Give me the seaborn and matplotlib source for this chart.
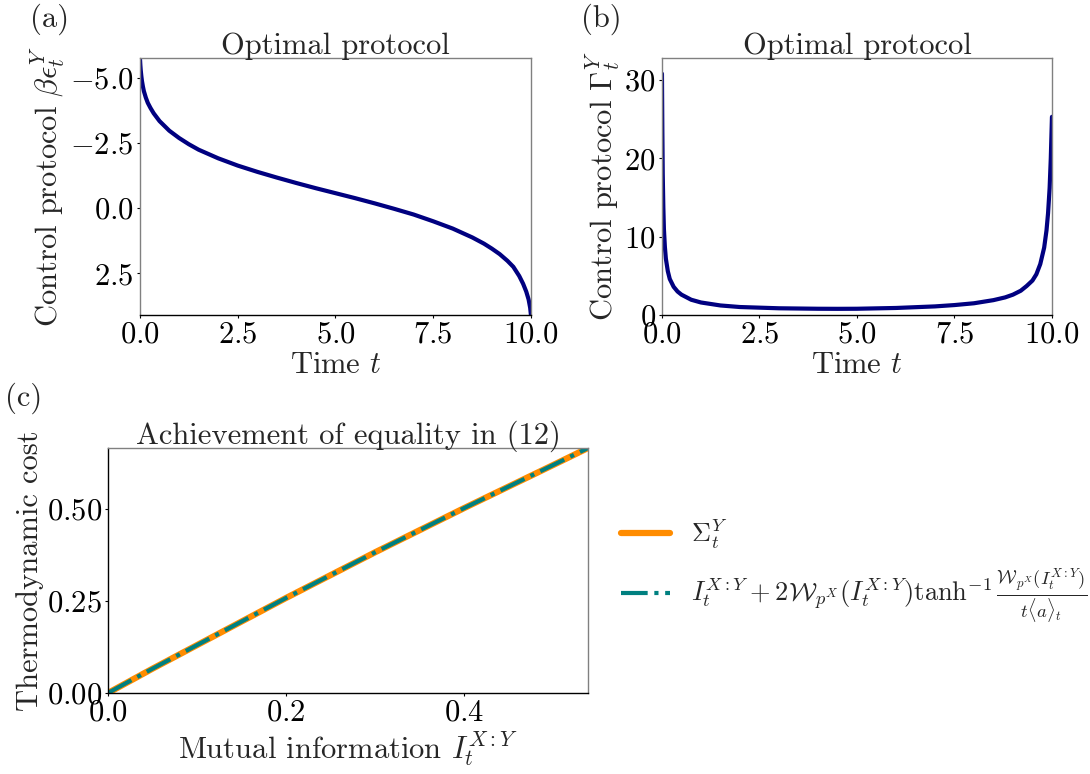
import numpy as np
import matplotlib
matplotlib.use("Agg")
import matplotlib.pyplot as plt
import seaborn as sns

sns.set_style("white")
plt.rcParams['font.family'] = 'serif'
plt.rcParams['font.serif'] = ['cmr10', 'DejaVu Serif']
plt.rcParams['mathtext.fontset'] = 'cm'
plt.rcParams['axes.formatter.use_mathtext'] = True
plt.rcParams['axes.unicode_minus'] = True

# (a) optimal energy protocol
t_energy = [0, 0.01, 0.02, 0.035, 0.05, 0.075, 0.1, 0.15, 0.2, 0.27, 0.35, 0.5, 0.75, 1.0,
            1.25, 1.5, 2.0, 2.5, 3.0, 3.5, 4.0, 4.5, 5.0, 5.5, 6.0, 6.5, 7.0, 7.5, 8.0,
            8.5, 8.8, 9.0, 9.2, 9.4, 9.55, 9.7, 9.8, 9.88, 9.94, 9.98, 10.0]
beta_eps = [-5.77, -5.5, -5.3, -5.08, -4.9, -4.68, -4.5, -4.25, -4.05, -3.85, -3.65, -3.35,
            -2.98, -2.7, -2.46, -2.25, -1.92, -1.64, -1.4, -1.18, -0.97, -0.77, -0.58,
            -0.39, -0.19, 0.02, 0.24, 0.5, 0.78, 1.12, 1.36, 1.55, 1.76, 2.02, 2.25, 2.6,
            2.9, 3.2, 3.5, 3.82, 4.1]

# (b) optimal rate protocol
t_rate = [0, 0.01, 0.02, 0.035, 0.05, 0.075, 0.1, 0.15, 0.2, 0.3, 0.4, 0.5, 0.75, 1.0, 1.5,
          2.0, 3.0, 4.0, 4.5, 5.0, 6.0, 7.0, 7.5, 8.0, 8.5, 8.8, 9.0, 9.2, 9.35, 9.5, 9.6,
          9.7, 9.8, 9.86, 9.9, 9.94, 9.97, 10.0]
gamma = [30.8, 23.5, 18.0, 13.8, 11.0, 8.7, 7.2, 5.6, 4.6, 3.6, 3.0, 2.6, 1.95, 1.6, 1.22,
         1.02, 0.86, 0.8, 0.79, 0.8, 0.9, 1.1, 1.27, 1.5, 1.9, 2.25, 2.6, 3.1, 3.7, 4.4,
         5.2, 6.5, 8.6, 10.8, 13.0, 16.2, 20.0, 25.3]

# (c) cost vs mutual information
mutual_info = [0, 0.05, 0.1, 0.2, 0.3, 0.4, 0.5, 0.539]
sigma_y = [0, 0.066, 0.13, 0.258, 0.382, 0.502, 0.619, 0.665]
bound_y = [0, 0.066, 0.13, 0.258, 0.382, 0.502, 0.619, 0.665]

time_ticks = [0, 2.5, 5, 7.5, 10]
eps_ticks = [-5, -2.5, 0, 2.5]
gamma_ticks = [0, 10, 20, 30]
mi_ticks = [0, 0.2, 0.4]
cost_ticks = [0, 0.25, 0.5]

FS = 22
GRAY = '#808080'

fig = plt.figure(figsize=(10.9, 7.74), dpi=100)
ax_a = fig.add_axes([0.1284, 0.593, 0.3587, 0.332])
ax_b = fig.add_axes([0.6073, 0.593, 0.3578, 0.332])
ax_c = fig.add_axes([0.0991, 0.1047, 0.4404, 0.3165])


def style_axes(ax, left_color):
    for side in ['top', 'right']:
        ax.spines[side].set_color(GRAY)
    ax.spines['left'].set_color(left_color)
    ax.spines['bottom'].set_color('black')
    for sp in ax.spines.values():
        sp.set_linewidth(1.0)
    ax.tick_params(axis='both', which='major', labelsize=FS, length=2.5, width=0.8,
                   colors='black', left=True, bottom=True, pad=2)


# (a)
sns.lineplot(x=t_energy, y=beta_eps, ax=ax_a, color='#000080', linewidth=3)
ax_a.set_xlim(0, 10)
ax_a.set_ylim(4.1, -5.77)
ax_a.set_xticks(time_ticks)
ax_a.set_yticks(eps_ticks)
ax_a.set_title("Optimal protocol", fontsize=FS, pad=3)
ax_a.set_xlabel(r"Time $t$", fontsize=FS, labelpad=2)
ax_a.set_ylabel(r"Control protocol $\beta\epsilon_t^Y$", fontsize=FS, labelpad=2)
style_axes(ax_a, GRAY)

# (b)
sns.lineplot(x=t_rate, y=gamma, ax=ax_b, color='#000080', linewidth=3)
ax_b.set_xlim(0, 10)
ax_b.set_ylim(0, 32.8)
ax_b.set_xticks(time_ticks)
ax_b.set_yticks(gamma_ticks)
ax_b.set_title("Optimal protocol", fontsize=FS, pad=3)
ax_b.set_xlabel(r"Time $t$", fontsize=FS, labelpad=2)
ax_b.set_ylabel(r"Control protocol $\Gamma_t^Y$", fontsize=FS, labelpad=2)
style_axes(ax_b, GRAY)

# (c)
sns.lineplot(x=mutual_info, y=sigma_y, ax=ax_c, color='#ff8c00', linewidth=4.5,
             label=r"$\Sigma_t^Y$")
sns.lineplot(x=mutual_info, y=bound_y, ax=ax_c, color='#008080', linewidth=3,
             linestyle='-.',
             label=r"$I_t^{X:Y} + 2\mathcal{W}_{p^X}(I_t^{X:Y})\tanh^{-1}"
                   r"\frac{\mathcal{W}_{p^X}(I_t^{X:Y})}{t\langle a\rangle_t}$")
ax_c.set_xlim(0, 0.539)
ax_c.set_ylim(0, 0.665)
ax_c.set_xticks(mi_ticks)
ax_c.set_yticks(cost_ticks)
ax_c.set_title("Achievement of equality in (12)", fontsize=FS, pad=3)
ax_c.set_xlabel(r"Mutual information $I_t^{X:Y}$", fontsize=FS, labelpad=2)
ax_c.set_ylabel("Thermodynamic cost", fontsize=FS, labelpad=2)
style_axes(ax_c, 'black')
ax_c.legend(loc='center left', bbox_to_anchor=(1.02, 0.495), frameon=False,
            fontsize=19, handlelength=1.85, handletextpad=0.8, labelspacing=0.6)

fig.text(50 / 1090, 1 - 19 / 774, "(a)", fontsize=FS, ha='center', va='center')
fig.text(601 / 1090, 1 - 19 / 774, "(b)", fontsize=FS, ha='center', va='center')
fig.text(24 / 1090, 1 - 398 / 774, "(c)", fontsize=FS, ha='center', va='center')

fig.savefig("out.png", dpi=100)
